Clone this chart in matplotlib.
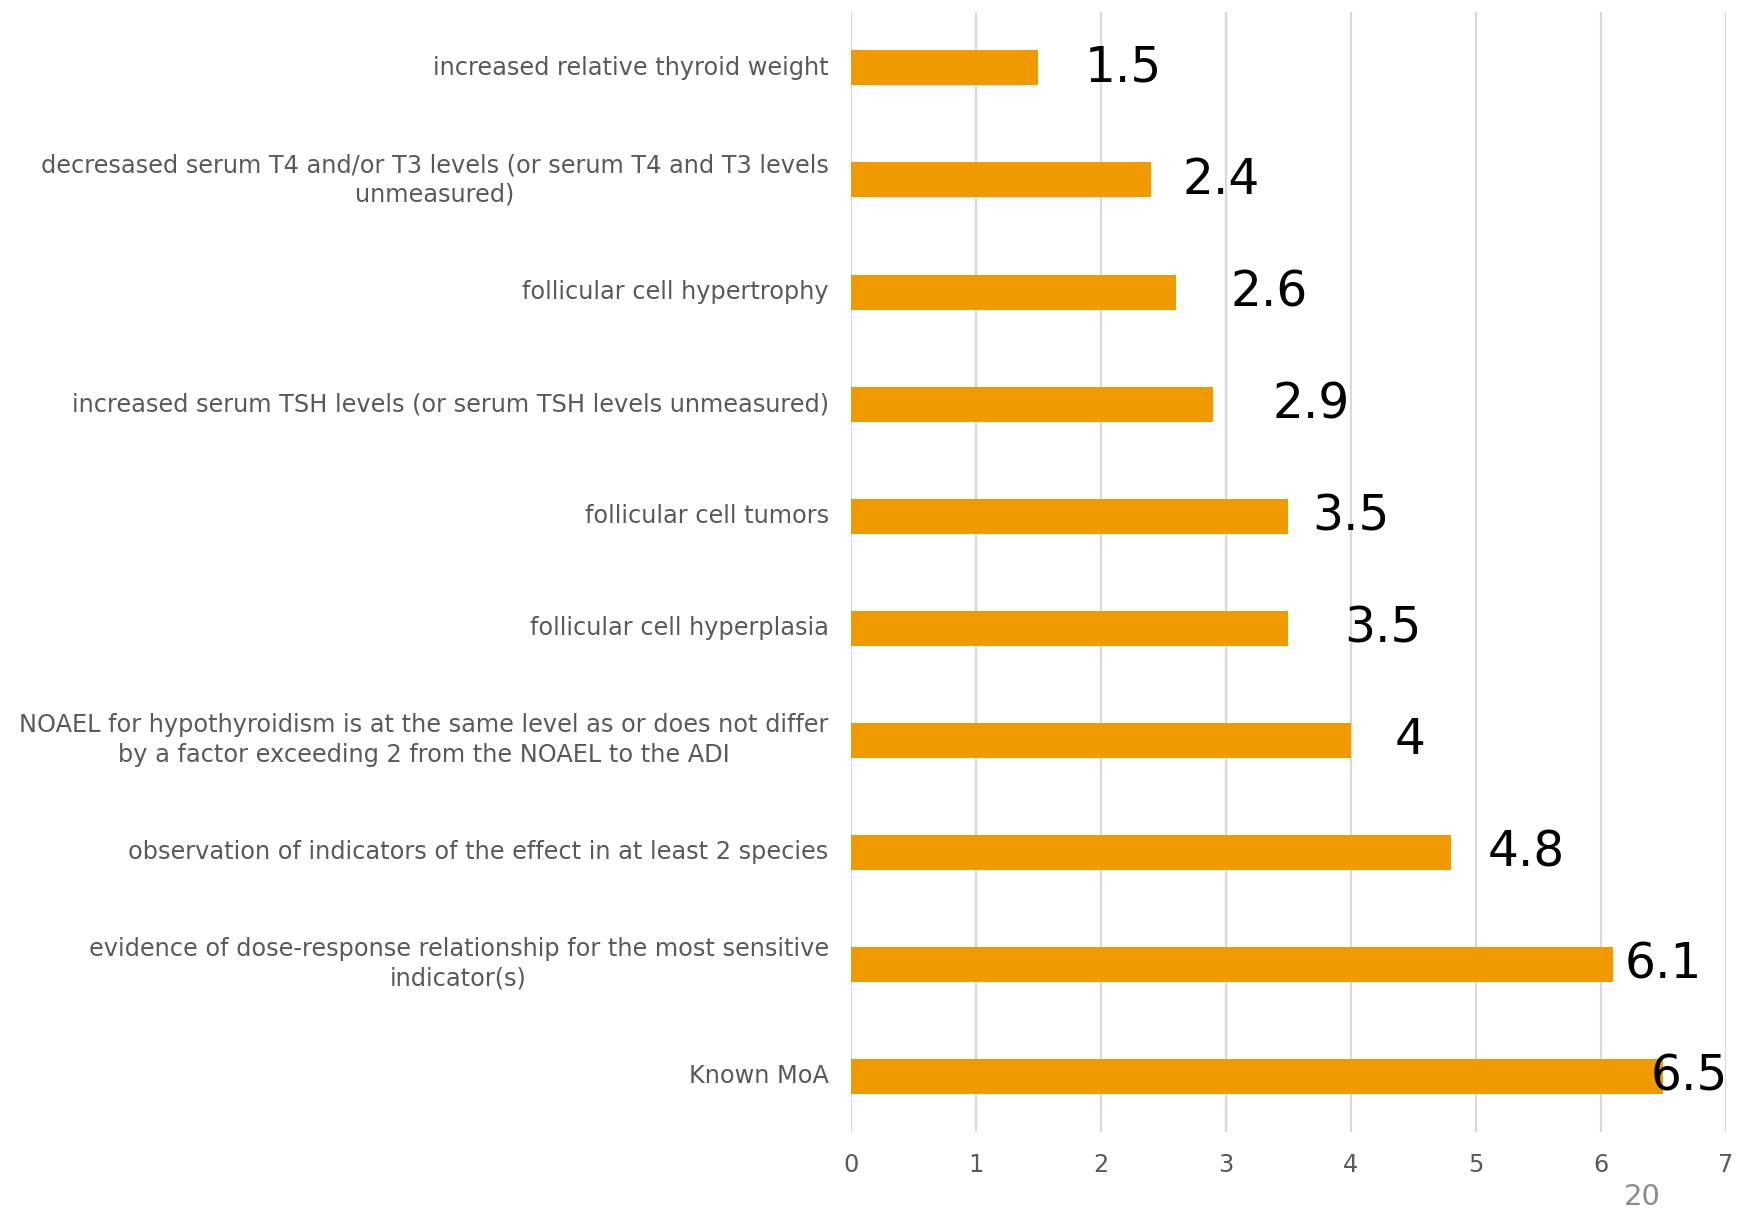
import matplotlib.pyplot as plt
import numpy as np

# categories from bottom to top
categorias = [
    "Known MoA",
    "evidence of dose-response relationship for the most sensitive\nindicator(s)",
    "observation of indicators of the effect in at least 2 species",
    "NOAEL for hypothyroidism is at the same level as or does not differ\nby a factor exceeding 2 from the NOAEL to the ADI",
    "follicular cell hyperplasia",
    "follicular cell tumors",
    "increased serum TSH levels (or serum TSH levels unmeasured)",
    "follicular cell hypertrophy",
    "decresased serum T4 and/or T3 levels (or serum T4 and T3 levels\nunmeasured)",
    "increased relative thyroid weight",
]
valores = [6.5, 6.1, 4.8, 4.0, 3.5, 3.5, 2.9, 2.6, 2.4, 1.5]
etiquetas = ["6.5", "6.1", "4.8", "4", "3.5", "3.5", "2.9", "2.6", "2.4", "1.5"]
# horizontal shift of each value label from the bar end (data units)
desplazamiento = [-0.1, 0.09, 0.29, 0.35, 0.45, 0.19, 0.47, 0.44, 0.25, 0.37]
x_ticks = [0, 1, 2, 3, 4, 5, 6, 7]

fig = plt.figure(figsize=(17.48, 12.11), dpi=100)
ax = fig.add_axes([0.4868, 0.0652, 0.5006, 0.9249])

y = np.arange(len(categorias))
ax.barh(y, valores, height=0.3125, color='#F09A00', zorder=2)

for yi, v, et, d in zip(y, valores, etiquetas, desplazamiento):
    ax.text(v + d, yi, et, fontsize=35, color='black', va='center', ha='left', zorder=3)

ax.set_xlim(0, 7)
ax.set_ylim(-0.5, 9.5)
ax.set_xticks(x_ticks)
ax.set_yticks(y)
ax.set_yticklabels(categorias, multialignment='center', va='center', linespacing=1.3)
ax.tick_params(axis='both', length=0, labelsize=17.3, labelcolor='#595959')
ax.tick_params(axis='y', pad=16)
ax.tick_params(axis='x', pad=15)
ax.grid(axis='x', color='#d9d9d9', linewidth=1.6, zorder=0)
for s in ['top', 'right', 'bottom', 'left']:
    ax.spines[s].set_visible(False)

fig.text(1642 / 1748, 1 - 1197 / 1211, "20", fontsize=21, color='#8c8c8c', ha='center', va='center')

fig.savefig('out.png', dpi=100)
